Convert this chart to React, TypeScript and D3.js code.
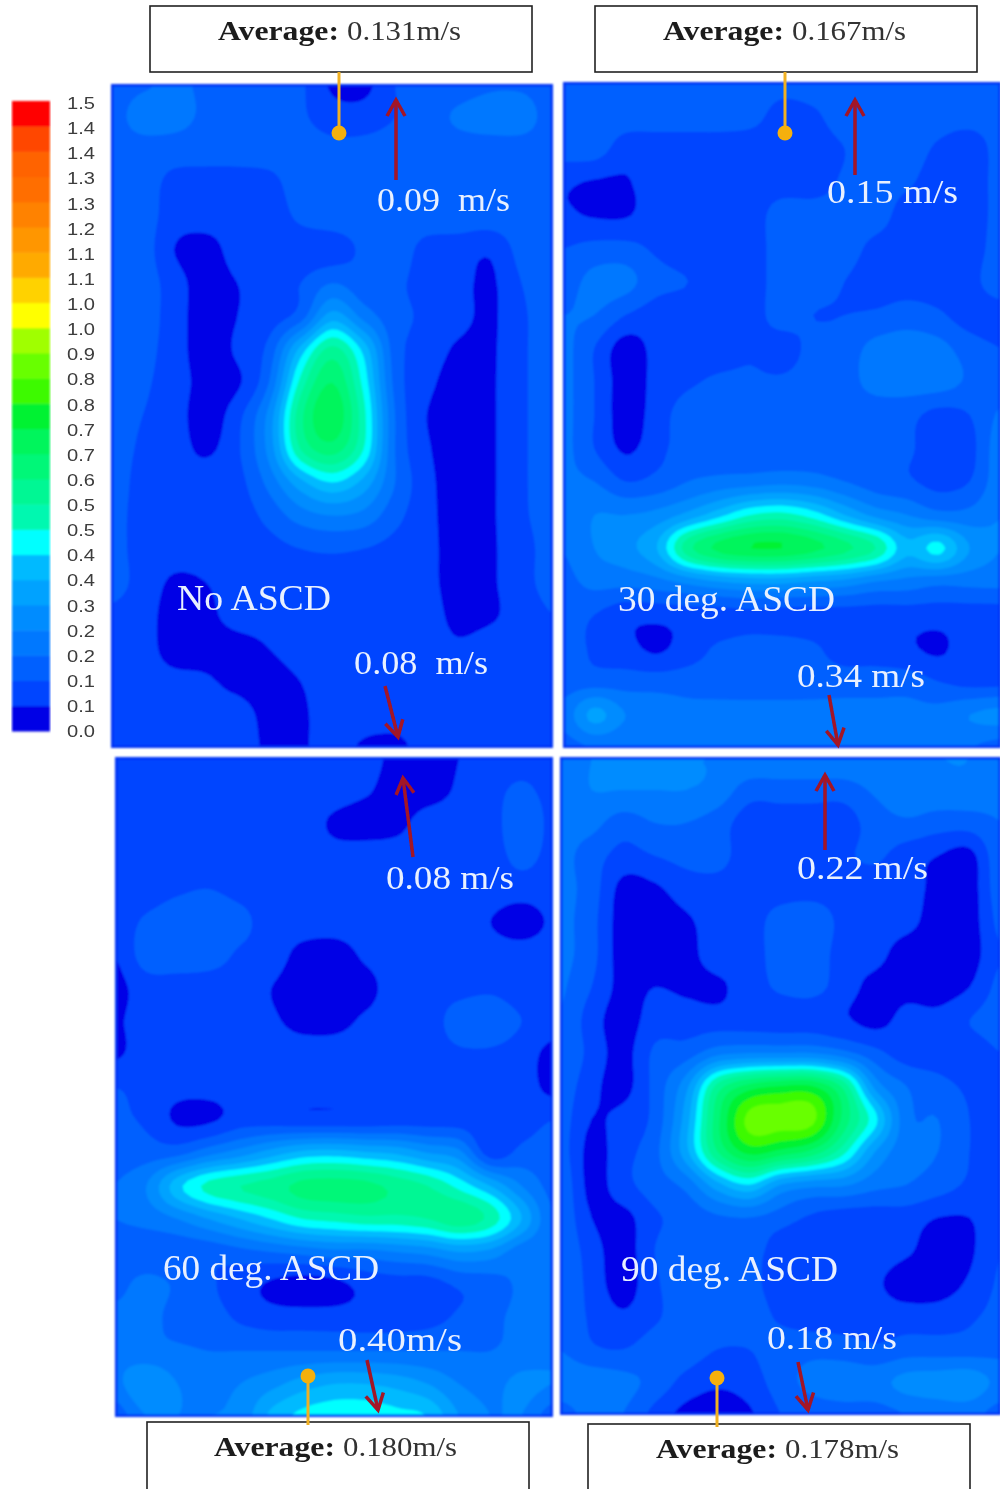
import React from "react";
import * as d3 from "d3";

// Colour legend: 25 bands, bottom to top
const bandColors = ["#0000e6","#0044ff","#0060ff","#0078ff","#008cff","#00a2ff","#00baff","#00ffff","#00f8b0","#00f794","#00f778","#00f55c","#00f230","#3cfa00","#68ff00","#a0ff00","#ffff00","#ffd200","#ffaa00","#ff9600","#ff8200","#ff6e00","#ff6400","#ff4600","#ff0000"];
const legendLabels = ["0.0","0.1","0.1","0.2","0.2","0.3","0.4","0.4","0.5","0.5","0.6","0.7","0.7","0.8","0.8","0.9","1.0","1.0","1.1","1.1","1.2","1.3","1.3","1.4","1.4","1.5"];
const bandStep = 6; // cm/s per band

// Velocity, cm/s, 21 rows x 15 columns
const noAscd = [
[15,17,19,17,16,15,13,5,4,12,15,15,17,17,15],
[15,21,20,17,16,15,13,9,9,12,15,19,21,21,15],
[15,15,15,15,15,15,15,14,14,15,15,15,15,15,15],
[15,15,10,9,9,10,15,15,15,15,15,15,15,15,15],
[15,15,9,9,9,9,13,15,15,15,15,15,15,15,15],
[15,15,6,3,9,9,9,9,13,15,10,9,7,14,15],
[15,15,9,3,6,9,12,18,14,13,10,8,5,12,15],
[15,15,9,3,6,9,15,33,22,14,11,8,5,11,15],
[15,14,9,3,7,14,38,56,40,15,10,5,5,11,15],
[15,13,9,4,5,18,50,66,46,16,8,3,5,11,15],
[15,12,9,3,10,26,58,71,50,18,6,3,5,11,15],
[15,11,9,5,11,26,54,63,48,18,7,3,5,11,15],
[15,10,9,9,10,20,34,42,34,18,8,3,5,11,15],
[14,10,9,9,9,14,21,24,22,14,8,3,5,11,14],
[14,10,9,9,9,10,12,13,12,10,8,3,5,10,14],
[14,10,5,6,9,9,9,9,9,9,8,3,5,10,14],
[11,9,3,4,9,9,9,9,9,9,9,4,5,9,12],
[10,9,3,3,3,6,9,9,9,9,9,7,9,9,11],
[10,9,8,7,4,3,6,9,9,9,9,9,9,9,10],
[10,9,9,9,9,4,5,9,9,9,9,9,9,9,10],
[9,9,9,9,9,5,5,9,5,4,9,9,9,9,9],
];
const deg30 = [
[13,15,15,15,15,15,15,14,15,15,15,15,15,15,13],
[15,15,15,15,15,15,14,10,11,15,13,15,15,15,15],
[15,15,9,9,9,9,9,9,9,12,15,15,11,8,15],
[7,5.5,5.5,9,9,9,9,9,9,13,15,13,9,9,14],
[7,5.5,5.5,9,9,9,9,15,15,15,15,9,9,9,14],
[12,14,14,11,9,9,9,15,15,15,10,9,9,9,15],
[15,20,20,14,12,9,9,15,15,12,9,9,9,10,16],
[18,18,12,9,9,9,9,15,12,12,13,15,13,9,9],
[20,12,3,8,9,9,11,9,14,15,20,21,20,15,12],
[20,12,3,8,11,13,13,13,15,16,20,21,21,17,15],
[20,12,3,9,15,15,15,15,15,15,15,14,10,12,19],
[20,12,5,10,15,15,15,15,15,15,15,13,9,10,22],
[19,18,12,14,18,20,21,22,21,18,15,13,10,12,22],
[18,24,24,26,32,40,48,50,45,36,28,24,20,20,24],
[18,24,28,36,58,68,72,72,68,62,54,38,44,30,24],
[16,20,20,22,26,30,32,32,30,28,24,22,20,20,20],
[15,12,8,8,9,9,10,9,9,9,9,9,9,9,9],
[15,11,8,5,9,13,15,15,13,9,9,7,5,9,9],
[15,15,15,15,15,15,15,15,15,15,15,15,12,10,10],
[20,32,24,22,20,20,20,20,20,20,20,20,20,24,26],
[15,18,18,18,18,18,18,18,18,18,18,18,18,18,15],
];
const deg60 = [
[10,9,9,9,9,9,9,9,9,4,4,6,9,10,10],
[10,9,9,9,9,9,9,9,7,3,3,7,10,13,10],
[10,9,9,9,9,9,9,5,3,4,9,9,9,17,10],
[9,9,9,9,9,9,9,8,9,9,9,9,9,14,10],
[9,9,11,12,10,9,9,9,9,9,9,9,9,9,9],
[9,13,16,17,14,9,9,9,9,9,9,9,6,3,7],
[6,15,16,15,11,9,4,3,7,9,9,9,9,9,9],
[4,9,9,9,9,6,3,3,4,9,9,10,11,9,9],
[5,9,9,9,9,7,4,4,7,9,9,15,16,12,9],
[5,9,9,9,9,9,9,9,9,9,9,11,11,9,4],
[12,10,8,8,9,9,9,9,9,9,9,9,9,9,4],
[13,11,5,5,9,9,8,8,8,9,9,9,8,9,12],
[15,15,16,22,27,33,38,39,37,35,30,26,9,14,15],
[18,24,40,50,54,57,62,63,62,58,54,46,36,24,16],
[18,20,24,30,36,42,48,50,52,52,54,58,52,36,18],
[15,14,14,14,16,18,20,22,22,24,26,30,28,20,18],
[16,20,17,13,9,5,3,4,8,9,9,13,15,19,19],
[20,20,16,15,11,9,9,9,9,9,10,13,16,20,20],
[22,20,19,18,18,18,18,18,18,18,18,18,18,20,22],
[22,30,24,22,24,28,33,36,36,34,30,24,22,26,24],
[14,24,24,24,26,38,44,46,46,44,42,30,24,24,14],
];
const deg90 = [
[20,24,24,24,24,24,24,24,24,24,24,24,24,24,20],
[20,24,24,24,24,22,15,15,15,15,19,22,22,22,20],
[20,20,15,18,18,15,9,9,9,9,15,17,15,15,18],
[20,15,10,12,14,14,9,9,9,11,13,9,6,4,17],
[20,15,4,5,9,10,9,9,9,9,9,9,4,3,16],
[20,14,3,3,5,9,9,15,17,10,9,8,3,3,14],
[20,14,3,3,4,9,9,15,16,9,8,3,3,3,12],
[19,12,4,6,5,5,9,13,14,9,4,4,3,6,14],
[18,9,3,9,9,9,9,9,9,7,4,8,8,12,15],
[18,10,4,13,15,22,24,24,24,20,14,9,9,9,12],
[16,8,4,14,28,56,68,72,72,58,28,18,14,11,10],
[15,6,8,14,33,64,86,87,86,64,44,20,18,12,9],
[15,4,10,16,34,60,74,70,64,50,30,20,18,12,9],
[17,4,10,15,20,34,42,30,26,25,20,18,15,11,9],
[17,6,4,11,14,17,18,15,11,9,9,9,6,6,10],
[17,9,3,12,15,15,15,9,9,9,9,7,3,5,12],
[17,10,3,11,15,15,14,9,9,9,7,3,3,7,13],
[17,11,7,11,15,15,15,11,9,9,9,9,9,11,14],
[18,13,12,15,15,12,12,15,16,15,13,15,15,15,16],
[22,22,20,16,10,7,9,15,20,22,22,26,27,28,22],
[15,20,18,10,4,3,5,12,14,15,15,18,20,20,15],
];
const panelGrids = [noAscd, deg30, deg60, deg90];
const panelTitles = ["No ASCD","30 deg. ASCD","60 deg. ASCD","90 deg. ASCD"];
const probeLabels = ["0.09  m/s","0.08  m/s","0.15 m/s","0.34 m/s","0.08 m/s","0.40m/s","0.22 m/s","0.18 m/s"];
const averageValues = ["0.131m/s","0.167m/s","0.180m/s","0.178m/s"];

// Layout
const panelBoxes = [[111,84,553,748],[563,82,1001,748],[115,757,553,1417],[560,757,1001,1415]];
const titleSpots = [[177,610,154],[618,611,217],[163,1280,216],[621,1281,217]];
const probeSpots = [[377,211,133],[354,674,134],[827,203,131],[797,687,128],[386,889,128],[338,1351,124],[797,879,131],[767,1349,130]];
const arrowPaths = [[396,180,396,100],[385,686,398,737],[855,175,855,100],[829,695,838,745],[413,857,403,778],[367,1360,378,1410],[825,850,825,775],[798,1362,808,1410]];
const avgBoxes = [[150,6,382,66,218,121,347,114,40],[595,6,382,66,663,121,792,114,40],[147,1422,382,70,214,121,343,114,1456],[588,1424,382,68,656,121,785,114,1458]];
const pins = [[339,72,339,133],[785,72,785,133],[308,1425,308,1376],[717,1427,717,1378]];

const catmull = (a: number, b: number, c: number, d: number, t: number) =>
  0.5 * (2 * b + (c - a) * t + (2 * a - 5 * b + 4 * c - d) * t * t + (-a + 3 * b - 3 * c + d) * t * t * t);

const K = 6;
function refine(grid: number[][]) {
  const ny = grid.length, nx = grid[0].length;
  const W = (nx - 1) * K + 1, H = (ny - 1) * K + 1;
  const at = (r: number, c: number) => grid[Math.max(0, Math.min(ny - 1, r))][Math.max(0, Math.min(nx - 1, c))];
  const values = new Array(W * H);
  for (let y = 0; y < H; y++) {
    const r = Math.min(Math.floor(y / K), ny - 2), v = y / K - r;
    for (let x = 0; x < W; x++) {
      const c = Math.min(Math.floor(x / K), nx - 2), u = x / K - c;
      const col = [-1, 0, 1, 2].map((dr) => catmull(at(r + dr, c - 1), at(r + dr, c), at(r + dr, c + 1), at(r + dr, c + 2), u));
      values[y * W + x] = catmull(col[0], col[1], col[2], col[3], v);
    }
  }
  return { W, H, values };
}

function Panel({ grid, box }: { grid: number[][]; box: number[] }) {
  const { W, H, values } = refine(grid);
  const [x0, y0, x1, y1] = box;
  const sx = d3.scaleLinear().domain([0.5, W - 0.5]).range([x0, x1]);
  const sy = d3.scaleLinear().domain([0.5, H - 0.5]).range([y0, y1]);
  const thresholds = bandColors.slice(1).map((_, i) => (i + 1) * bandStep);
  const contours = d3.contours().size([W, H]).smooth(true).thresholds(thresholds)(values);
  const path = d3.geoPath(d3.geoTransform({ point(x: number, y: number) { (this as any).stream.point(sx(x), sy(y)); } }));
  const id = `clip${x0}${y0}`;
  return (
    <g>
      <clipPath id={id}><rect x={x0} y={y0} width={x1 - x0} height={y1 - y0} /></clipPath>
      <g clipPath={`url(#${id})`}>
        <rect x={x0} y={y0} width={x1 - x0} height={y1 - y0} fill={bandColors[0]} />
        {contours.map((c, i) => <path key={i} d={path(c as any) || ""} fill={bandColors[i + 1]} />)}
        <rect x={x0} y={y0} width={x1 - x0} height={y1 - y0} fill="none" stroke="#0030f4" strokeWidth={5} />
      </g>
    </g>
  );
}

function Arrow({ p }: { p: number[] }) {
  const [ax, ay, bx, by] = p;
  const len = Math.hypot(bx - ax, by - ay), ux = (bx - ax) / len, uy = (by - ay) / len;
  const line = d3.line();
  const hl = 16, hw = 9;
  const head: [number, number][] = [
    [bx - ux * hl - uy * hw, by - uy * hl + ux * hw],
    [bx, by],
    [bx - ux * hl + uy * hw, by - uy * hl - ux * hw],
  ];
  return (
    <g stroke="#a31428" fill="none">
      <path d={line([[ax, ay], [bx, by]]) || ""} strokeWidth={3.5} />
      <path d={line(head) || ""} strokeWidth={3.5} />
    </g>
  );
}

export default function App() {
  const bandY = d3.scaleLinear().domain([0, bandColors.length]).range([731, 101]);
  const labelY = d3.scaleLinear().domain([0, legendLabels.length - 1]).range([731, 103]);
  const serif = "'Liberation Serif', serif";
  return (
    <svg width={1000} height={1489} style={{ position: "absolute", left: 0, top: 0, display: "block", background: "#fff" }}>
      <defs>
        <filter id="soft" x="-2%" y="-2%" width="104%" height="104%"><feGaussianBlur stdDeviation={1.1} /></filter>
        <filter id="softText" x="-5%" y="-5%" width="110%" height="110%"><feGaussianBlur stdDeviation={0.4} /></filter>
      </defs>
      <g filter="url(#soft)">
        {bandColors.map((c, i) => (
          <rect key={i} x={12} y={bandY(i + 1)} width={38} height={bandY(i) - bandY(i + 1) + 0.5} fill={c} />
        ))}
      </g>
      <g filter="url(#softText)">
        {legendLabels.map((t, i) => (
          <text key={i} x={67} y={labelY(i)} dy="0.36em" fontFamily="'Liberation Sans', sans-serif" fontSize={17} fill="#3c3c3c" textLength={28} lengthAdjust="spacingAndGlyphs">{t}</text>
        ))}
      </g>
      <g filter="url(#soft)">
        {panelGrids.map((g, i) => <Panel key={i} grid={g} box={panelBoxes[i]} />)}
      </g>
      <g filter="url(#softText)">
        {avgBoxes.map((b, i) => (
          <g key={i}>
            <rect x={b[0]} y={b[1]} width={b[2]} height={b[3]} fill="#fff" stroke="#222" strokeWidth={1.6} />
            <text x={b[4]} y={b[8]} fontFamily={serif} fontWeight="bold" fontSize={27} fill="#1a1a1a" textLength={b[5]} lengthAdjust="spacingAndGlyphs">Average:</text>
            <text x={b[6]} y={b[8]} fontFamily={serif} fontSize={27} fill="#333" textLength={b[7]} lengthAdjust="spacingAndGlyphs">{averageValues[i]}</text>
          </g>
        ))}
        {pins.map((p, i) => (
          <g key={i}>
            <line x1={p[0]} y1={p[1]} x2={p[2]} y2={p[3]} stroke="#f0b020" strokeWidth={3} />
            <circle cx={p[2]} cy={p[3]} r={7.5} fill="#f5b010" />
          </g>
        ))}
        {arrowPaths.map((p, i) => <Arrow key={i} p={p} />)}
        {panelTitles.map((t, i) => (
          <text key={i} x={titleSpots[i][0]} y={titleSpots[i][1]} fontFamily={serif} fontSize={35} fill="#e8f0ff" textLength={titleSpots[i][2]} lengthAdjust="spacingAndGlyphs">{t}</text>
        ))}
        {probeLabels.map((t, i) => (
          <text key={i} x={probeSpots[i][0]} y={probeSpots[i][1]} fontFamily={serif} fontSize={34} fill="#e8f0ff" xmlSpace="preserve" style={{ whiteSpace: "pre" }} textLength={probeSpots[i][2]} lengthAdjust="spacingAndGlyphs">{t}</text>
        ))}
      </g>
    </svg>
  );
}
